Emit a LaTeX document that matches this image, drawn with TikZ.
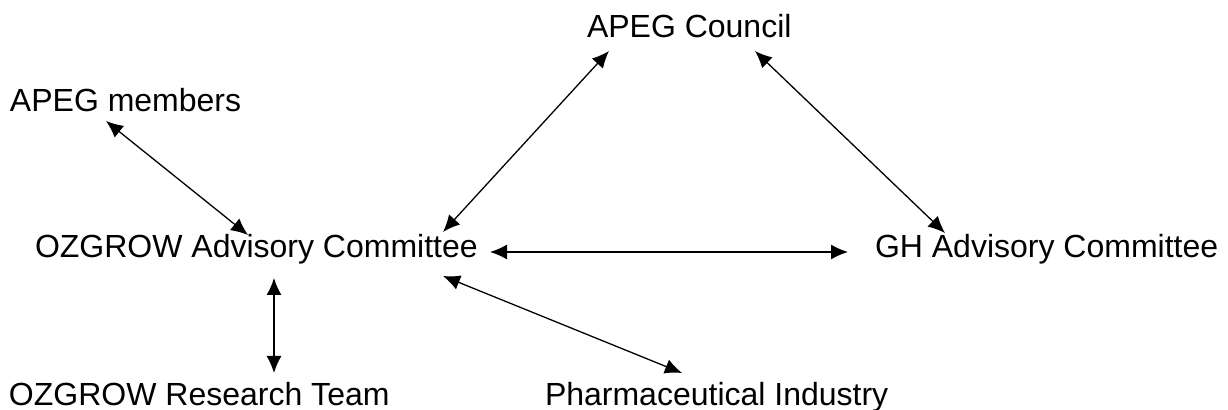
\documentclass[tikz,border=0pt]{standalone}
\usepackage{fontspec}
\setmainfont{Liberation Sans}
\usetikzlibrary{calc,arrows.meta}

\begin{document}
\begin{tikzpicture}[x=0.5pt,y=-0.5pt,
  lbl/.style={inner sep=0pt,outer sep=0pt,anchor=base west,font=\fontsize{16}{19}\selectfont},
  rel/.style={{Latex[length=8.5pt,width=7.5pt]}-{Latex[length=8.5pt,width=7.5pt]},line width=0.65pt}]
\useasboundingbox (0,0) rectangle (1228,410);

\node[lbl] (council) at (587,38) {APEG Council};
\node[lbl] (members) at (10,112) {APEG members};
\node[lbl] (ozac) at (35,258) {OZGROW Advisory Committee};
\node[lbl] (gh) at (875,258) {GH Advisory Committee};
\node[lbl] (team) at (9,406) {OZGROW Research Team};
\node[lbl] (pharma) at (545,406) {Pharmaceutical Industry};

\draw[rel] ($(members.base west)+(96,9)$) -- ($(ozac.base west)+(213,-23)$);
\draw[rel] ($(council.base west)+(22,13)$) -- ($(ozac.base west)+(408,-26)$);
\draw[rel] ($(council.base west)+(168,13)$) -- ($(gh.base west)+(70,-25)$);
\draw[rel] ($(ozac.base west)+(455,-6)$) -- ($(gh.base west)+(-27,-6)$);
\draw[rel] ($(ozac.base west)+(239,20)$) -- ($(team.base west)+(265,-33)$);
\draw[rel] ($(ozac.base west)+(408,18)$) -- ($(pharma.base west)+(137,-33)$);
\end{tikzpicture}
\end{document}
